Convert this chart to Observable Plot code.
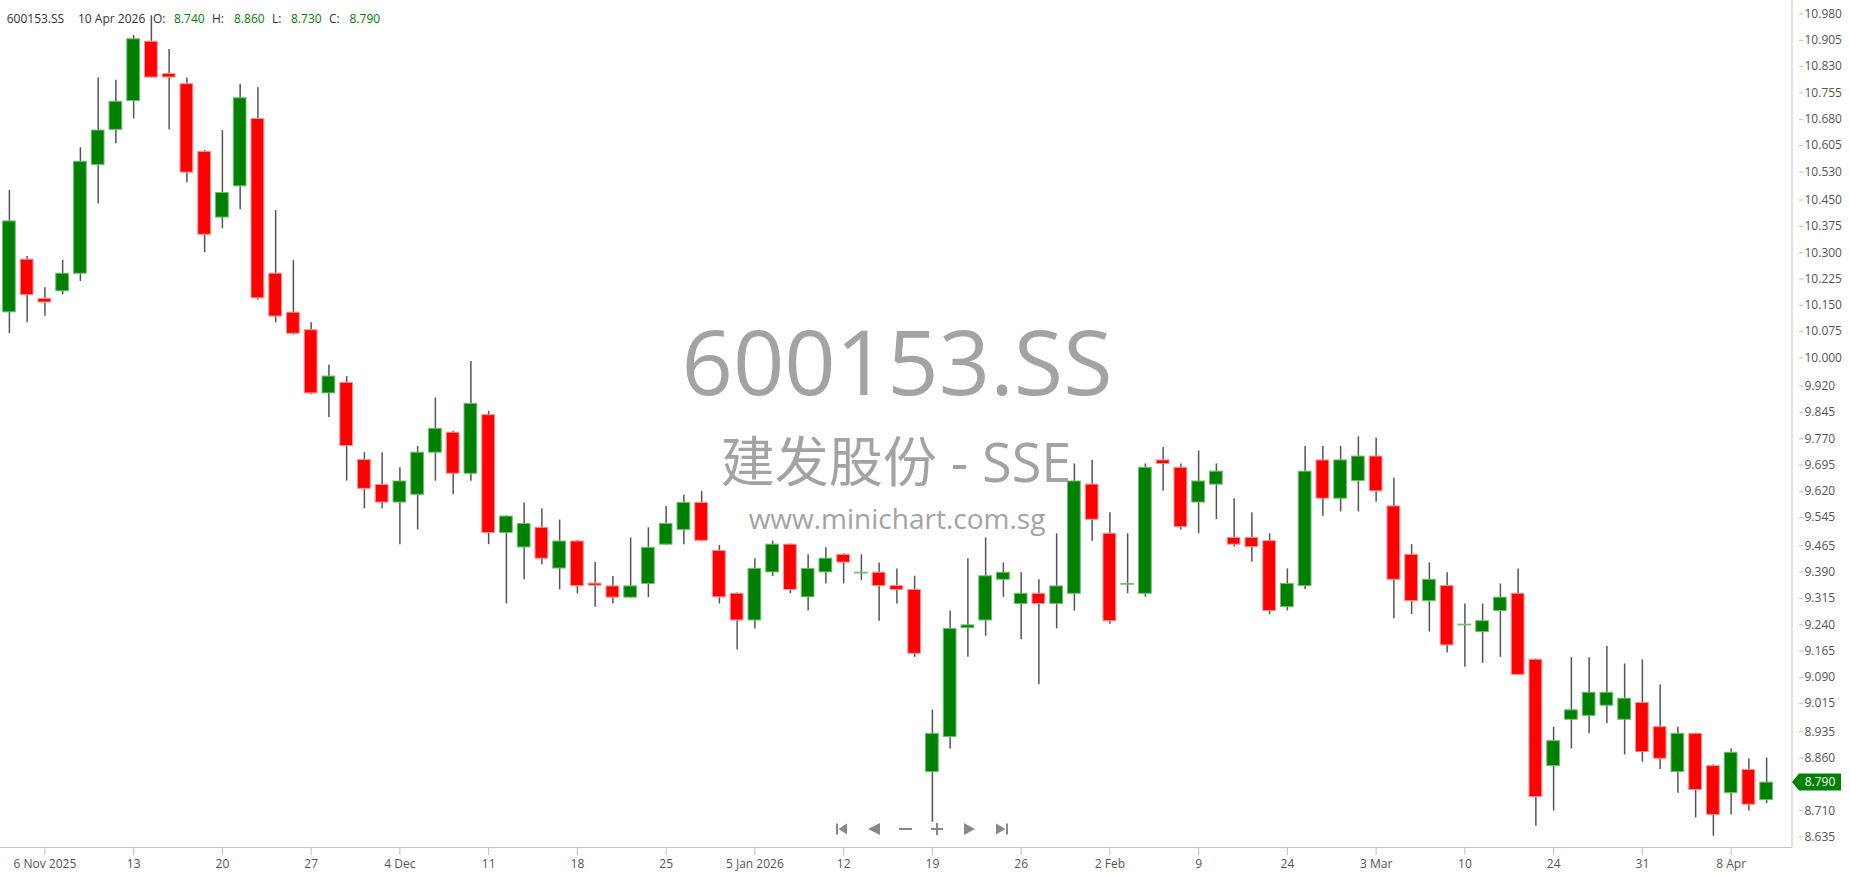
<!DOCTYPE html>
<html><head><meta charset="utf-8">
<script src="https://cdn.jsdelivr.net/npm/d3@7"></script>
<script src="https://cdn.jsdelivr.net/npm/@observablehq/plot@0.6"></script>
<style>
html,body{margin:0;padding:0;background:#fff;overflow:hidden}
#chart{position:relative;width:1850px;height:874px}
g[aria-label$="-axis tick"]{stroke:#bdbdbd}
</style></head><body><div id="chart"></div>
<script>
const symbol = "600153.SS";
const nameLine = "建发股份 - SSE";
const site = "www.minichart.com.sg";

const dates = ["2025-11-04","2025-11-05","2025-11-06","2025-11-07","2025-11-10","2025-11-11","2025-11-12","2025-11-13","2025-11-14","2025-11-17",
"2025-11-18","2025-11-19","2025-11-20","2025-11-21","2025-11-24","2025-11-25","2025-11-26","2025-11-27","2025-11-28","2025-12-01",
"2025-12-02","2025-12-03","2025-12-04","2025-12-05","2025-12-08","2025-12-09","2025-12-10","2025-12-11","2025-12-12","2025-12-15",
"2025-12-16","2025-12-17","2025-12-18","2025-12-19","2025-12-22","2025-12-23","2025-12-24","2025-12-25","2025-12-26","2025-12-29",
"2025-12-30","2025-12-31","2026-01-05","2026-01-06","2026-01-07","2026-01-08","2026-01-09","2026-01-12","2026-01-13","2026-01-14",
"2026-01-15","2026-01-16","2026-01-19","2026-01-20","2026-01-21","2026-01-22","2026-01-23","2026-01-26","2026-01-27","2026-01-28",
"2026-01-29","2026-01-30","2026-02-02","2026-02-03","2026-02-04","2026-02-05","2026-02-06","2026-02-09","2026-02-10","2026-02-11",
"2026-02-12","2026-02-13","2026-02-24","2026-02-25","2026-02-26","2026-02-27","2026-03-02","2026-03-03","2026-03-04","2026-03-05",
"2026-03-06","2026-03-09","2026-03-10","2026-03-18","2026-03-19","2026-03-20","2026-03-23","2026-03-24","2026-03-25","2026-03-26",
"2026-03-27","2026-03-30","2026-03-31","2026-04-01","2026-04-02","2026-04-03","2026-04-07","2026-04-08","2026-04-09","2026-04-10"];

const open = [10.130,10.280,10.168,10.190,10.240,10.550,10.650,10.732,10.901,10.809,
10.780,10.587,10.400,10.489,10.681,10.240,10.129,10.079,9.899,9.929,
9.709,9.638,9.588,9.610,9.730,9.787,9.670,9.837,9.501,9.460,
9.516,9.400,9.477,9.357,9.349,9.317,9.356,9.468,9.510,9.587,
9.450,9.328,9.252,9.389,9.468,9.318,9.389,9.439,9.386,9.388,
9.350,9.339,8.820,8.920,9.230,9.252,9.368,9.299,9.328,9.299,
9.328,9.639,9.499,9.354,9.328,9.708,9.687,9.588,9.639,9.487,
9.487,9.478,9.290,9.350,9.708,9.599,9.649,9.719,9.577,9.439,
9.307,9.350,9.238,9.219,9.279,9.328,9.140,8.837,8.969,8.980,
9.009,8.969,9.017,8.948,8.820,8.929,8.837,8.760,8.826,8.740];

const high = [10.477,10.289,10.200,10.278,10.599,10.798,10.791,10.919,10.975,10.879,
10.798,10.591,10.648,10.780,10.770,10.420,10.278,10.100,9.979,9.947,
9.730,9.730,9.687,9.748,9.886,9.791,9.990,9.848,9.550,9.587,
9.570,9.538,9.480,9.417,9.377,9.487,9.516,9.577,9.609,9.620,
9.466,9.330,9.428,9.478,9.470,9.439,9.459,9.442,9.439,9.416,
9.399,9.378,8.997,9.279,9.428,9.487,9.416,9.388,9.368,9.499,
9.698,9.708,9.559,9.499,9.698,9.745,9.698,9.735,9.698,9.599,
9.559,9.499,9.399,9.748,9.748,9.748,9.775,9.772,9.658,9.468,
9.416,9.388,9.299,9.299,9.356,9.399,9.142,8.948,9.146,9.146,
9.178,9.128,9.140,9.069,8.948,8.931,8.841,8.886,8.858,8.860];

const low = [10.069,10.100,10.119,10.180,10.218,10.439,10.610,10.681,10.797,10.650,
10.499,10.300,10.368,10.422,10.165,10.100,10.065,9.895,9.830,9.649,
9.570,9.570,9.468,9.510,9.649,9.610,9.649,9.468,9.299,9.368,
9.411,9.339,9.328,9.290,9.299,9.315,9.317,9.466,9.468,9.476,
9.299,9.168,9.228,9.377,9.328,9.279,9.356,9.356,9.366,9.250,
9.299,9.147,8.677,8.886,9.147,9.207,9.318,9.197,9.069,9.228,
9.279,9.478,9.241,9.328,9.318,9.620,9.510,9.499,9.539,9.461,
9.418,9.269,9.279,9.340,9.549,9.561,9.561,9.589,9.257,9.269,
9.219,9.159,9.119,9.130,9.147,9.095,8.666,8.709,8.886,8.929,
8.958,8.869,8.848,8.827,8.760,8.689,8.637,8.698,8.709,8.730];

const close = [10.389,10.179,10.158,10.240,10.559,10.648,10.730,10.908,10.799,10.799,
10.528,10.351,10.470,10.740,10.170,10.118,10.069,9.899,9.947,9.749,
9.627,9.588,9.648,9.730,9.798,9.670,9.869,9.501,9.548,9.527,
9.428,9.477,9.350,9.351,9.317,9.349,9.459,9.527,9.587,9.479,
9.318,9.252,9.399,9.468,9.339,9.399,9.428,9.417,9.388,9.350,
9.339,9.157,8.929,9.228,9.238,9.378,9.388,9.328,9.299,9.349,
9.648,9.539,9.250,9.356,9.687,9.698,9.518,9.648,9.676,9.468,
9.461,9.279,9.356,9.676,9.599,9.708,9.719,9.620,9.368,9.307,
9.368,9.181,9.240,9.250,9.317,9.097,8.749,8.908,8.996,9.046,
9.046,9.029,8.877,8.858,8.929,8.769,8.698,8.875,8.727,8.790];

const tickDates = ["2025-11-06","2025-11-13","2025-11-20","2025-11-27","2025-12-04","2025-12-11","2025-12-18","2025-12-25","2026-01-05","2026-01-12",
"2026-01-19","2026-01-26","2026-02-02","2026-02-09","2026-02-24","2026-03-03","2026-03-10","2026-03-24","2026-03-31","2026-04-08"];
const tickLabels = ["6 Nov 2025","13","20","27","4 Dec","11","18","25","5 Jan 2026","12",
"19","26","2 Feb","9","24","3 Mar","10","24","31","8 Apr"];

const yTickLabels = ["10.980","10.905","10.830","10.755","10.680","10.605","10.530","10.450","10.375","10.300",
"10.225","10.150","10.075","10.000","9.920","9.845","9.770","9.695","9.620","9.545",
"9.465","9.390","9.315","9.240","9.165","9.090","9.015","8.935","8.860","8.710","8.635"];
const yTicks = yTickLabels.map(Number);

const yDomain = [8.6051, 11.0185];

const rows = dates.map((d, i) => ({date: d, open: open[i], high: high[i], low: low[i], close: close[i]}));
const upRows = rows.filter(r => r.close >= r.open);
const downRows = rows.filter(r => r.close < r.open);
const labelOf = new Map(tickDates.map((d, i) => [d, tickLabels[i]]));

const W = 1850, H = 874, MR = 58, MB = 27;

const chart = Plot.plot({
  width: W, height: H,
  marginTop: 0, marginLeft: 0, marginRight: MR, marginBottom: MB,
  style: {background: "#fff", fontFamily: "'Open Sans', sans-serif", fontSize: "12px", color: "#555", overflow: "visible"},
  x: {type: "band", domain: dates, range: [2.525, 1772.5], paddingInner: 0.2817, paddingOuter: 0, align: 0.5, round: false, label: null},
  y: {domain: yDomain, label: null},
  marks: [
    Plot.ruleY([yDomain[0]], {stroke: "#c4c4c4", strokeWidth: 1}),
    Plot.ruleX(rows, {x: "date", y1: "low", y2: "high", stroke: "#555", strokeWidth: 1.5}),
    Plot.barY(upRows, {x: "date", y1: "open", y2: "close", fill: "#008000", stroke: "#6fbf6f", strokeWidth: 1}),
    Plot.barY(downRows, {x: "date", y1: "open", y2: "close", fill: "#ff0000", stroke: "#ff8f8f", strokeWidth: 1}),
    Plot.axisX({ticks: tickDates, tickFormat: d => labelOf.get(d), tickSize: 8, tickPadding: 4, color: "#555", fontSize: 12}),
    Plot.axisY({anchor: "right", ticks: yTicks, tickFormat: d => d.toFixed(3), tickSize: 4, tickPadding: 2, dx: 6, color: "#555", fontSize: 12})
  ]
});
document.getElementById("chart").appendChild(chart);

const svg = d3.select(chart);
const yS = chart.scale("y");
const plotRight = W - MR;
const plotBottom = H - MB;

// watermark (behind candles)
const wm = svg.insert("g", "g").attr("fill", "#a3a3a3").attr("text-anchor", "middle").attr("font-family", "'Open Sans', 'Noto Sans CJK SC', sans-serif");
wm.append("text").attr("x", 897).attr("y", 395).attr("font-size", 90).text(symbol);
wm.append("text").attr("x", 896).attr("y", 482).attr("font-size", 54).text(nameLine);
wm.append("text").attr("x", 897).attr("y", 529).attr("font-size", 28).text(site);

// right axis line
svg.append("line").attr("x1", plotRight).attr("x2", plotRight).attr("y1", 0).attr("y2", plotBottom).attr("stroke", "#c4c4c4");

// header
const last = rows[rows.length - 1];
const hdrDate = d3.utcFormat("%-d %b %Y")(d3.isoParse(last.date));
const hdr = svg.append("g").attr("font-family", "'Open Sans', sans-serif").attr("font-size", 12).attr("text-anchor", "start");
const hdrItems = [
  [6.7, symbol, "#333"], [78, hdrDate, "#333"],
  [153, "O:", "#333"], [174, last.open.toFixed(3), "#008000"],
  [212, "H:", "#333"], [234, last.high.toFixed(3), "#008000"],
  [272, "L:", "#333"], [291, last.low.toFixed(3), "#008000"],
  [329, "C:", "#333"], [349.5, last.close.toFixed(3), "#008000"]
];
for (const [x, t, c] of hdrItems) hdr.append("text").attr("x", x).attr("y", 22.8).attr("fill", c).text(t);

// last price tag
const yc = yS.apply(last.close);
svg.append("path").attr("d", `M${plotRight},${yc} L${plotRight + 7},${yc - 8.5} L${plotRight + 49},${yc - 8.5} L${plotRight + 49},${yc + 8.5} L${plotRight + 7},${yc + 8.5} Z`).attr("fill", "#008000");
svg.append("text").attr("x", plotRight + 28).attr("y", yc).attr("dy", "0.35em").attr("text-anchor", "middle").attr("fill", "#fff")
  .attr("font-family", "'Open Sans', sans-serif").attr("font-size", 12).text(last.close.toFixed(3));

// navigation controls
const nav = svg.append("g").attr("fill", "#888");
const cy = 829;
nav.append("rect").attr("x", 836).attr("y", cy - 5.5).attr("width", 2).attr("height", 11);
nav.append("path").attr("d", `M838.5,${cy} L847,${cy - 5.5} L847,${cy + 5.5} Z`);
nav.append("path").attr("d", `M868,${cy} L880,${cy - 6} L880,${cy + 6} Z`);
nav.append("rect").attr("x", 899).attr("y", cy - 1).attr("width", 13).attr("height", 2);
nav.append("rect").attr("x", 931).attr("y", cy - 1).attr("width", 12).attr("height", 2);
nav.append("rect").attr("x", 936).attr("y", cy - 6).attr("width", 2).attr("height", 12);
nav.append("path").attr("d", `M975,${cy} L964,${cy - 6} L964,${cy + 6} Z`);
nav.append("path").attr("d", `M1005.5,${cy} L996,${cy - 5.5} L996,${cy + 5.5} Z`);
nav.append("rect").attr("x", 1006).attr("y", cy - 5.5).attr("width", 2).attr("height", 11);
</script></body></html>
